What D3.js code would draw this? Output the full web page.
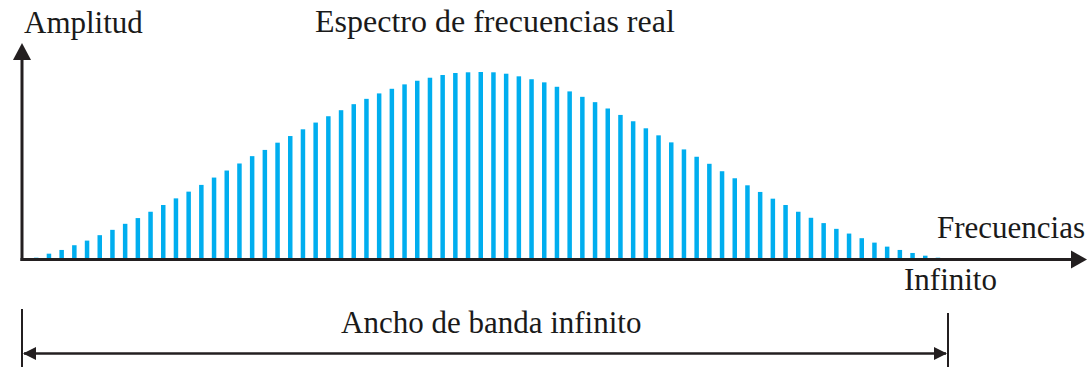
<!DOCTYPE html>
<html>
<head>
<meta charset="utf-8">
<script src="https://cdn.jsdelivr.net/npm/d3@7"></script>
<style>
  html, body { margin: 0; padding: 0; background: #ffffff; }
  svg { display: block; }
  text { font-family: "Liberation Serif", "Times New Roman", serif; fill: #1a1a1a; }
</style>
</head>
<body>
<svg id="chart" width="1092" height="367"></svg>
<script>
// Spectral components (harmonic number) and their amplitudes (arbitrary units)
const harmonics = d3.range(1, 73);
const amplitudes = [
  1.3, 5.3, 9.0, 13.7, 18.3, 23.7, 29.0, 35.0, 40.7, 47.0,
  53.7, 60.3, 67.0, 73.7, 81.0, 88.0, 95.0, 102.3, 108.5, 115.7,
  122.3, 129.0, 135.7, 142.0, 148.0, 154.0, 159.3, 164.7, 169.3, 173.7,
  177.3, 180.3, 183.0, 185.0, 185.7, 186.0, 185.7, 184.3, 181.7, 178.8,
  175.7, 171.3, 166.7, 161.3, 156.0, 149.7, 143.3, 137.0, 130.0, 123.0,
  116.0, 109.0, 101.7, 94.7, 87.3, 80.3, 73.3, 66.7, 60.0, 53.7,
  47.0, 41.0, 35.7, 30.0, 25.3, 20.7, 16.3, 12.3, 9.0, 6.0,
  3.3, 1.3
];

// Text labels
const yAxisLabel = "Amplitud";
const xAxisLabel = "Frecuencias";
const titleLabel = "Espectro de frecuencias real";
const endLabel = "Infinito";
const bandwidthLabel = "Ancho de banda infinito";

const svg = d3.select("#chart");
const ink = "#231f20";
const barColor = "#00aeef";

const x = d3.scaleBand()
  .domain(harmonics)
  .range([34, 940.2])
  .paddingInner(0.646)
  .paddingOuter(0);

const y = d3.scaleLinear()
  .domain([0, 186])
  .range([259, 72]);

// Spectral lines
svg.append("g")
  .selectAll("rect")
  .data(harmonics.map((h, i) => ({ h, a: amplitudes[i] })))
  .join("rect")
  .attr("x", d => x(d.h))
  .attr("y", d => y(d.a))
  .attr("width", x.bandwidth())
  .attr("height", d => y(0) - y(d.a))
  .attr("fill", barColor);

// Axes with arrowheads
const axisY0 = 259.5;
const axisX0 = 22;
const axes = svg.append("g");
axes.append("line")
  .attr("x1", axisX0).attr("x2", axisX0)
  .attr("y1", axisY0 + 1.5).attr("y2", 58)
  .attr("stroke", ink).attr("stroke-width", 3);
axes.append("path")
  .attr("d", `M${axisX0},43 L${axisX0 + 9},60 L${axisX0 - 9},60 Z`)
  .attr("fill", ink);
axes.append("line")
  .attr("x1", axisX0 - 1.5).attr("x2", 1073)
  .attr("y1", axisY0).attr("y2", axisY0)
  .attr("stroke", ink).attr("stroke-width", 3);
axes.append("path")
  .attr("d", `M1087,${axisY0} L1071,${axisY0 - 9} L1071,${axisY0 + 9} Z`)
  .attr("fill", ink);

// Bandwidth dimension line
const dimY = 353.5;
const dimL = 22, dimR = 948;
const dim = svg.append("g");
dim.append("line")
  .attr("x1", dimL).attr("x2", dimL).attr("y1", 309).attr("y2", 367)
  .attr("stroke", ink).attr("stroke-width", 2);
dim.append("line")
  .attr("x1", dimR).attr("x2", dimR).attr("y1", 313).attr("y2", 367)
  .attr("stroke", ink).attr("stroke-width", 2);
dim.append("line")
  .attr("x1", dimL + 2).attr("x2", dimR - 2).attr("y1", dimY).attr("y2", dimY)
  .attr("stroke", ink).attr("stroke-width", 2.5);
dim.append("path")
  .attr("d", `M${dimL + 1},${dimY} L${dimL + 14},${dimY - 6.5} L${dimL + 14},${dimY + 6.5} Z`)
  .attr("fill", ink);
dim.append("path")
  .attr("d", `M${dimR - 1},${dimY} L${dimR - 14},${dimY - 6.5} L${dimR - 14},${dimY + 6.5} Z`)
  .attr("fill", ink);

// Labels
const fs = "31px";
svg.append("text").attr("x", 24).attr("y", 33).style("font-size", fs).text(yAxisLabel);
svg.append("text").attr("x", 315).attr("y", 32).style("font-size", "32px").text(titleLabel);
svg.append("text").attr("x", 937).attr("y", 238).style("font-size", fs).text(xAxisLabel);
svg.append("text").attr("x", 904).attr("y", 290).style("font-size", fs).text(endLabel);
svg.append("text").attr("x", 341).attr("y", 333).style("font-size", fs).text(bandwidthLabel);
</script>
</body>
</html>
